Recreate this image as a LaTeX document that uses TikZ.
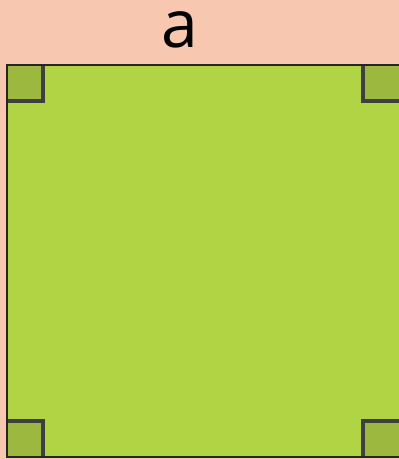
\documentclass[tikz,border=0pt]{standalone}
\usepackage{fontspec}
\setmainfont{Open Sans}
\definecolor{peach}{HTML}{F7C8AF}
\definecolor{sqgreen}{HTML}{B0D444}
\definecolor{mkgreen}{HTML}{9DB83F}
\definecolor{mkgray}{HTML}{3E3F3E}
\begin{document}
\begin{tikzpicture}[x=1pt,y=1pt,
  marker/.style={fill=mkgreen},
  markline/.style={draw=mkgray,line width=4.5pt}]
\useasboundingbox (0,0) rectangle (399,459);
\fill[peach] (0,0) rectangle (399,459);
\node[font=\fontsize{66}{70}\selectfont,inner sep=0pt,anchor=base] (lbl) at (180,411) {a};
\draw[fill=sqgreen,line width=1.2pt,draw=black!85] (7,2) rectangle (401,394);
% markers
\fill[marker] (7.6,394) rectangle (43,358);
\draw[markline] (43,394) -- (43,358) -- (7.6,358);
\fill[marker] (7.6,2.6) rectangle (43,38);
\draw[markline] (43,2.6) -- (43,38) -- (7.6,38);
\fill[marker] (363,394) rectangle (400,358);
\draw[markline] (363,394) -- (363,358) -- (400,358);
\fill[marker] (363,2.6) rectangle (400,38);
\draw[markline] (363,2.6) -- (363,38) -- (400,38);
\draw[line width=1.2pt,draw=black!85] (7,2) rectangle (401,394);
\end{tikzpicture}
\end{document}
